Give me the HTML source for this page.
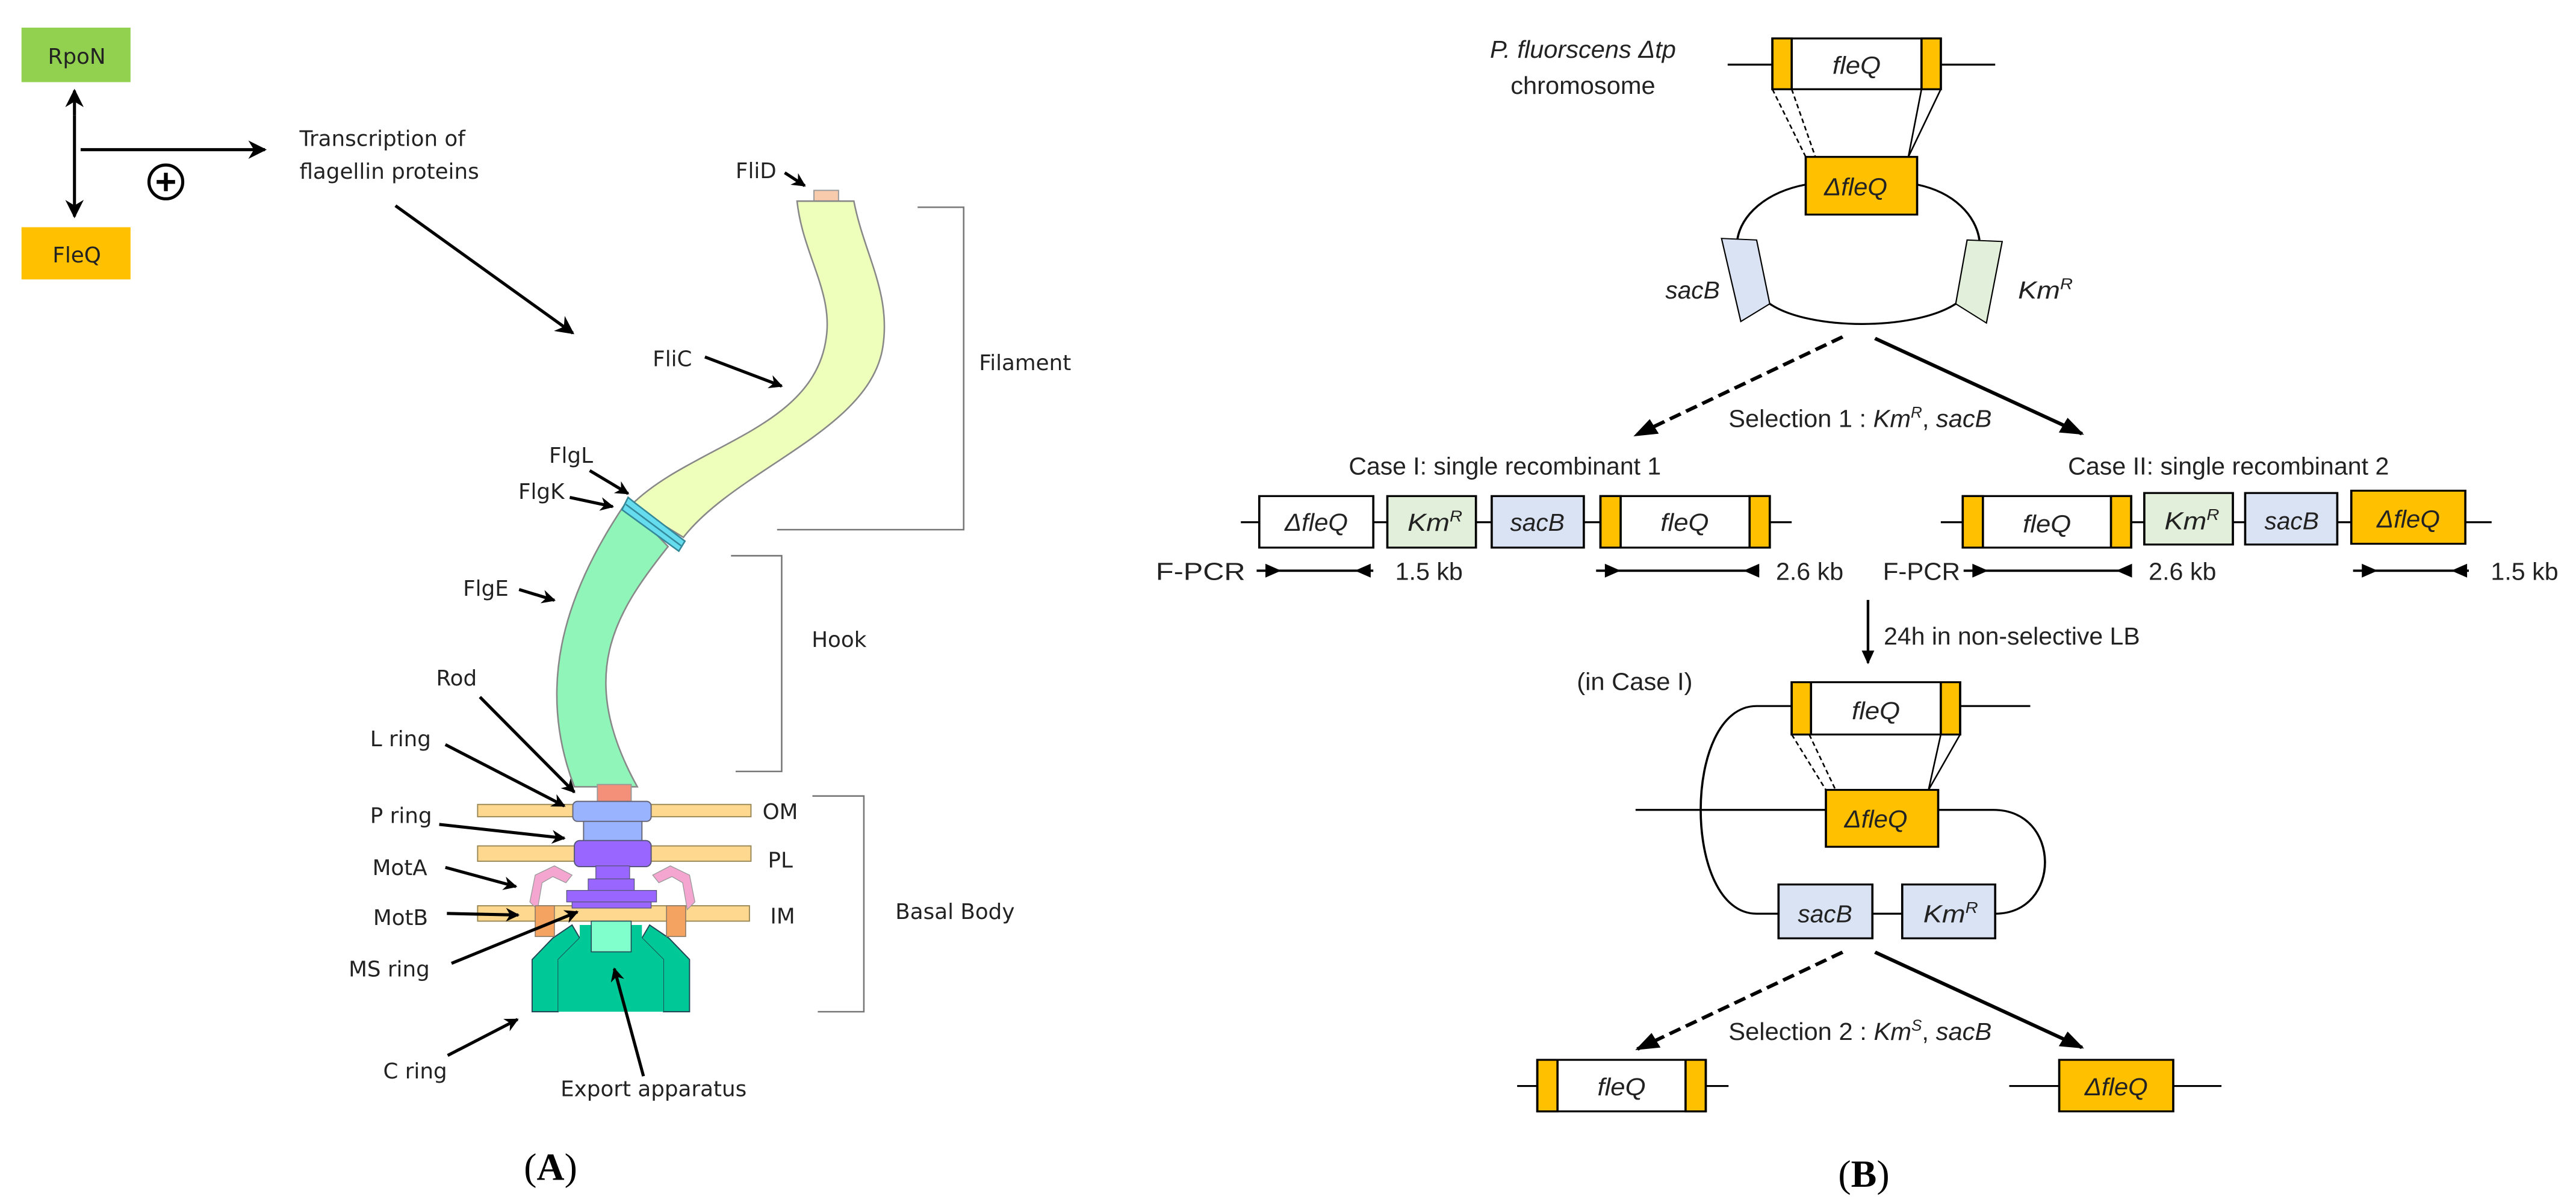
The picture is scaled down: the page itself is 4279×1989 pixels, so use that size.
<!DOCTYPE html>
<html><head><meta charset="utf-8"><style>html,body{margin:0;padding:0;background:#fff}svg{display:block}</style></head><body>
<svg width="4279" height="1989" viewBox="0 0 4279 1989" xmlns="http://www.w3.org/2000/svg">
<defs>
<marker id="ah" viewBox="0 0 10 10" refX="9" refY="5" markerWidth="6" markerHeight="6" orient="auto" markerUnits="strokeWidth"><path d="M0,0 L10,5 L0,10 L3,5 Z" fill="#000"/></marker>
<marker id="ah2" viewBox="0 0 10 10" refX="9" refY="5" markerWidth="4.5" markerHeight="4.5" orient="auto" markerUnits="strokeWidth"><path d="M0,0 L10,5 L0,10 L3,5 Z" fill="#000"/></marker>
<marker id="bh" viewBox="0 0 10 10" refX="9" refY="5" markerWidth="6" markerHeight="6" orient="auto" markerUnits="strokeWidth"><path d="M0,1 L10,5 L0,9 Z" fill="#000"/></marker>
</defs>

<!-- PANEL A -->
<g transform="scale(1.2755)" font-family="'DejaVu Sans','Liberation Sans',sans-serif" font-size="28" fill="#222">
<rect x="28" y="36" width="142" height="71" fill="#92d050"/>
<text x="100" y="83" text-anchor="middle">RpoN</text>
<rect x="28" y="296" width="142" height="68" fill="#ffc000"/>
<text x="100" y="342" text-anchor="middle">FleQ</text>
<line x1="97" y1="150" x2="97" y2="118" stroke="#000" stroke-width="4" marker-end="url(#ah)"/>
<line x1="97" y1="150" x2="97" y2="282" stroke="#000" stroke-width="4" marker-end="url(#ah)"/>
<line x1="105" y1="195" x2="345" y2="195" stroke="#000" stroke-width="4" marker-end="url(#ah)"/>
<circle cx="216" cy="237" r="22" fill="none" stroke="#000" stroke-width="4"/>
<line x1="204" y1="237" x2="228" y2="237" stroke="#000" stroke-width="5"/>
<line x1="216" y1="225" x2="216" y2="249" stroke="#000" stroke-width="5"/>
<text x="390" y="190">Transcription of</text>
<text x="390" y="233">flagellin proteins</text>
<line x1="515" y1="268" x2="746" y2="434" stroke="#000" stroke-width="4" marker-end="url(#ah)"/>

<!-- filament -->
<rect x="1060" y="248" width="32" height="14" fill="#f8cbad" stroke="#999" stroke-width="1.5"/>
<path d="M1038,262 L1112,262 C1125,330 1160,380 1150,450 C1135,560 960,610 890,700 L822,658 C900,580 1060,560 1076,440 C1085,380 1045,330 1038,262 Z" fill="#eeffbb" stroke="#888" stroke-width="2"/>
<path d="M815,655 L870,712 C800,800 750,880 830,1025 L748,1025 C700,900 730,780 815,655 Z" fill="#90f5b8" stroke="#888" stroke-width="2"/>
<path d="M818,648 L828,656 L892,705 L884,718 L810,664 Z" fill="#66ddee" stroke="#338899" stroke-width="2"/>
<line x1="815" y1="657" x2="887" y2="711" stroke="#338899" stroke-width="2"/>

<!-- basal -->
<rect x="778" y="1022" width="44" height="25" fill="#f4907a" stroke="#999" stroke-width="1.5"/>
<rect x="622" y="1048" width="356" height="16" fill="#ffd890" stroke="#998855" stroke-width="1.5"/>
<rect x="622" y="1102" width="356" height="20" fill="#ffd890" stroke="#998855" stroke-width="1.5"/>
<rect x="622" y="1180" width="354" height="20" fill="#ffd890" stroke="#998855" stroke-width="1.5"/>
<rect x="760" y="1066" width="76" height="32" fill="#99b3ff" stroke="#667" stroke-width="1.5"/>
<rect x="746" y="1044" width="102" height="26" rx="6" fill="#99b3ff" stroke="#667" stroke-width="1.5"/>
<rect x="748" y="1095" width="100" height="34" rx="7" fill="#9966ff" stroke="#557" stroke-width="1.5"/>
<rect x="776" y="1128" width="44" height="18" fill="#9966ff" stroke="#557" stroke-width="1"/>
<rect x="766" y="1145" width="60" height="16" fill="#9966ff" stroke="#557" stroke-width="1"/>
<rect x="738" y="1160" width="117" height="15" fill="#9966ff" stroke="#557" stroke-width="1"/>
<rect x="745" y="1175" width="103" height="8" fill="#9966ff" stroke="#557" stroke-width="1"/>
<path d="M690,1175 L697,1140 L722,1128 L745,1140 L737,1150 L720,1142 L706,1150 L700,1185 Z" fill="#f4a6d0" stroke="#999" stroke-width="1"/>
<path d="M905,1175 L898,1140 L873,1128 L850,1140 L858,1150 L875,1142 L889,1150 L895,1185 Z" fill="#f4a6d0" stroke="#999" stroke-width="1"/>
<path d="M693,1250 L720,1222 L745,1205 L755,1222 L727,1250 L727,1318 L693,1318 Z" fill="#00c896" stroke="#245" stroke-width="1.5"/>
<path d="M898,1250 L871,1222 L846,1205 L836,1222 L864,1250 L864,1318 L898,1318 Z" fill="#00c896" stroke="#245" stroke-width="1.5"/>
<path d="M755,1205 L836,1205 L836,1222 L864,1250 L864,1318 L727,1318 L727,1250 L755,1222 Z" fill="#00c896"/>
<rect x="770" y="1200" width="52" height="40" fill="#80ffcc" stroke="#245" stroke-width="1.2"/>
<rect x="697" y="1180" width="25" height="40" fill="#f4a460" stroke="#876" stroke-width="1.2"/>
<rect x="868" y="1180" width="25" height="40" fill="#f4a460" stroke="#876" stroke-width="1.2"/>

<!-- brackets -->
<polyline points="1195,270 1255,270 1255,690 1012,690" fill="none" stroke="#777" stroke-width="2"/>
<polyline points="952,724 1018,724 1018,1005 958,1005" fill="none" stroke="#777" stroke-width="2"/>
<polyline points="1058,1037 1125,1037 1125,1318 1065,1318" fill="none" stroke="#777" stroke-width="2"/>
<text x="1275" y="482">Filament</text>
<text x="1057" y="843">Hook</text>
<text x="1166" y="1197">Basal Body</text>
<text x="993" y="1067">OM</text>
<text x="1000" y="1130">PL</text>
<text x="1003" y="1203">IM</text>

<g stroke="#000" stroke-width="4" fill="none">
<line x1="1022" y1="225" x2="1048" y2="242" marker-end="url(#ah2)"/>
<line x1="918" y1="465" x2="1018" y2="503" marker-end="url(#ah2)"/>
<line x1="768" y1="613" x2="818" y2="643" marker-end="url(#ah2)"/>
<line x1="742" y1="648" x2="798" y2="660" marker-end="url(#ah2)"/>
<line x1="676" y1="768" x2="722" y2="782" marker-end="url(#ah2)"/>
<line x1="625" y1="908" x2="748" y2="1032" marker-end="url(#ah2)"/>
<line x1="580" y1="970" x2="735" y2="1050" marker-end="url(#ah2)"/>
<line x1="572" y1="1074" x2="735" y2="1092" marker-end="url(#ah2)"/>
<line x1="580" y1="1130" x2="672" y2="1155" marker-end="url(#ah2)"/>
<line x1="582" y1="1190" x2="675" y2="1192" marker-end="url(#ah2)"/>
<line x1="588" y1="1255" x2="752" y2="1188" marker-end="url(#ah2)"/>
<line x1="583" y1="1375" x2="674" y2="1328" marker-end="url(#ah2)"/>
<line x1="838" y1="1402" x2="800" y2="1262" marker-end="url(#ah2)"/>
</g>
<text x="958" y="232">FliD</text>
<text x="850" y="477">FliC</text>
<text x="715" y="603">FlgL</text>
<text x="675" y="650">FlgK</text>
<text x="603" y="776">FlgE</text>
<text x="568" y="893">Rod</text>
<text x="482" y="972">L ring</text>
<text x="482" y="1072">P ring</text>
<text x="485" y="1140">MotA</text>
<text x="486" y="1205">MotB</text>
<text x="454" y="1272">MS ring</text>
<text x="499" y="1405">C ring</text>
<text x="730" y="1428">Export apparatus</text>
<text x="717" y="1537" text-anchor="middle" font-family="'Liberation Serif',serif" font-size="50" fill="#000">(<tspan font-weight="bold">A</tspan>)</text>
</g>

<!-- PANEL B -->
<g transform="translate(2000,0) scale(1.457,1.278)" font-family="'Liberation Sans',sans-serif" font-size="32" fill="#222">
<g stroke="#000" stroke-width="2.5">
<line x1="597" y1="84" x2="902" y2="84"/>
<rect x="648" y="50" width="192" height="66" fill="#fff"/>
<rect x="648" y="50" width="22" height="66" fill="#ffc000"/>
<rect x="818" y="50" width="22" height="66" fill="#ffc000"/>
<line x1="648" y1="116" x2="686" y2="204" stroke-dasharray="6,4" stroke-width="1.8"/>
<line x1="670" y1="116" x2="697" y2="204" stroke-dasharray="6,4" stroke-width="1.8"/>
<line x1="818" y1="116" x2="803" y2="204" stroke-width="1.8"/>
<line x1="840" y1="116" x2="803" y2="204" stroke-width="1.8"/>
<path d="M686,240 C640,250 612,280 608,312" fill="none"/>
<path d="M813,240 C855,250 880,280 884,312" fill="none"/>
<path d="M645,395 C690,430 810,430 857,395" fill="none"/>
<rect x="686" y="204" width="127" height="75" fill="#ffc000"/>
<polygon points="590,310 630,312 645,395 612,418" fill="#dae3f3" stroke-width="1.5"/>
<polygon points="870,312 910,314 892,420 857,395" fill="#e2efda" stroke-width="1.5"/>
</g>
<text x="432" y="75" text-anchor="middle" font-style="italic" textLength="212" lengthAdjust="spacingAndGlyphs">P. fluorscens Δtp</text>
<text x="432" y="122" text-anchor="middle" textLength="165" lengthAdjust="spacingAndGlyphs">chromosome</text>
<text x="744" y="96" text-anchor="middle" font-style="italic" textLength="55" lengthAdjust="spacingAndGlyphs">fleQ</text>
<text x="743" y="254" text-anchor="middle" font-style="italic" textLength="72" lengthAdjust="spacingAndGlyphs">ΔfleQ</text>
<text x="557" y="388" text-anchor="middle" font-style="italic" textLength="62" lengthAdjust="spacingAndGlyphs">sacB</text>
<text x="928" y="388" font-style="italic">Km<tspan font-size="20" dy="-12">R</tspan></text>

<g stroke="#000" stroke-width="4.5" fill="none">
<line x1="728" y1="438" x2="492" y2="566" stroke-dasharray="14,7" marker-end="url(#bh)"/>
<line x1="765" y1="440" x2="1001" y2="564" marker-end="url(#bh)"/>
<line x1="728" y1="1238" x2="494" y2="1364" stroke-dasharray="14,7" marker-end="url(#bh)"/>
<line x1="765" y1="1238" x2="1001" y2="1362" marker-end="url(#bh)"/>
<line x1="757" y1="780" x2="757" y2="862" stroke-width="3" marker-end="url(#bh)"/>
</g>
<text x="598" y="555" textLength="300" lengthAdjust="spacingAndGlyphs">Selection 1 : <tspan font-style="italic">Km</tspan><tspan font-size="20" dy="-12" font-style="italic">R</tspan><tspan dy="12">, </tspan><tspan font-style="italic">sacB</tspan></text>
<text x="165" y="617" textLength="356" lengthAdjust="spacingAndGlyphs">Case I: single recombinant 1</text>
<text x="985" y="617" textLength="366" lengthAdjust="spacingAndGlyphs">Case II: single recombinant 2</text>

<g stroke="#000" stroke-width="2.5">
<line x1="42" y1="679" x2="670" y2="679"/>
<rect x="63" y="645" width="130" height="67" fill="#fff"/>
<rect x="209" y="645" width="101" height="67" fill="#e2efda"/>
<rect x="328" y="645" width="105" height="67" fill="#dae3f3"/>
<rect x="452" y="645" width="193" height="67" fill="#fff"/>
<rect x="452" y="645" width="23" height="67" fill="#ffc000"/>
<rect x="622" y="645" width="23" height="67" fill="#ffc000"/>
<line x1="840" y1="679" x2="1468" y2="679"/>
<rect x="865" y="645" width="192" height="67" fill="#fff"/>
<rect x="865" y="645" width="23" height="67" fill="#ffc000"/>
<rect x="1034" y="645" width="23" height="67" fill="#ffc000"/>
<rect x="1072" y="641" width="101" height="67" fill="#e2efda"/>
<rect x="1187" y="641" width="105" height="67" fill="#dae3f3"/>
<rect x="1308" y="638" width="130" height="69" fill="#ffc000"/>
</g>
<g font-style="italic">
<text x="128" y="690" text-anchor="middle" textLength="72" lengthAdjust="spacingAndGlyphs">ΔfleQ</text>
<text x="232" y="690">Km<tspan font-size="20" dy="-12">R</tspan></text>
<text x="380" y="690" text-anchor="middle" textLength="62" lengthAdjust="spacingAndGlyphs">sacB</text>
<text x="548" y="690" text-anchor="middle" textLength="55" lengthAdjust="spacingAndGlyphs">fleQ</text>
<text x="961" y="692" text-anchor="middle" textLength="55" lengthAdjust="spacingAndGlyphs">fleQ</text>
<text x="1095" y="688">Km<tspan font-size="20" dy="-12">R</tspan></text>
<text x="1240" y="688" text-anchor="middle" textLength="62" lengthAdjust="spacingAndGlyphs">sacB</text>
<text x="1373" y="686" text-anchor="middle" textLength="72" lengthAdjust="spacingAndGlyphs">ΔfleQ</text>
</g>
<g stroke="#000" stroke-width="3">
<line x1="60" y1="742" x2="193" y2="742"/>
<line x1="447" y1="742" x2="633" y2="742"/>
<line x1="866" y1="742" x2="1058" y2="742"/>
<line x1="1310" y1="742" x2="1442" y2="742"/>
</g>
<g fill="#000">
<polygon points="70,733 88,742 70,751"/><polygon points="190,733 172,742 190,751"/>
<polygon points="457,733 475,742 457,751"/><polygon points="633,733 615,742 633,751"/>
<polygon points="876,733 894,742 876,751"/><polygon points="1058,733 1040,742 1058,751"/>
<polygon points="1320,733 1338,742 1320,751"/><polygon points="1440,733 1422,742 1440,751"/>
</g>
<text x="-55" y="754" textLength="102" lengthAdjust="spacingAndGlyphs">F-PCR</text>
<text x="218" y="754" textLength="77" lengthAdjust="spacingAndGlyphs">1.5 kb</text>
<text x="652" y="754" textLength="77" lengthAdjust="spacingAndGlyphs">2.6 kb</text>
<text x="774" y="754" textLength="88" lengthAdjust="spacingAndGlyphs">F-PCR</text>
<text x="1077" y="754" textLength="77" lengthAdjust="spacingAndGlyphs">2.6 kb</text>
<text x="1467" y="754" textLength="77" lengthAdjust="spacingAndGlyphs">1.5 kb</text>
<text x="775" y="838" textLength="292" lengthAdjust="spacingAndGlyphs">24h in non-selective LB</text>
<text x="425" y="897" textLength="132" lengthAdjust="spacingAndGlyphs">(in Case I)</text>

<g stroke="#000" stroke-width="2.5" fill="none">
<path d="M670,918 L630,918 C545,918 545,1188 630,1188 L655,1188"/>
<line x1="862" y1="918" x2="942" y2="918"/>
<line x1="492" y1="1053" x2="709" y2="1053"/>
<path d="M837,1053 L900,1053 C978,1053 978,1188 902,1188"/>
<line x1="762" y1="1188" x2="796" y2="1188"/>
<line x1="670" y1="955" x2="709" y2="1027" stroke-dasharray="6,4" stroke-width="1.8"/>
<line x1="690" y1="955" x2="720" y2="1027" stroke-dasharray="6,4" stroke-width="1.8"/>
<line x1="862" y1="955" x2="826" y2="1027" stroke-width="1.8"/>
<line x1="840" y1="955" x2="826" y2="1027" stroke-width="1.8"/>
<rect x="670" y="887" width="192" height="68" fill="#fff"/>
<rect x="670" y="887" width="22" height="68" fill="#ffc000"/>
<rect x="840" y="887" width="22" height="68" fill="#ffc000"/>
<rect x="709" y="1027" width="128" height="74" fill="#ffc000"/>
<rect x="655" y="1150" width="107" height="70" fill="#dae3f3"/>
<rect x="796" y="1150" width="106" height="70" fill="#dae3f3"/>
<line x1="357" y1="1412" x2="598" y2="1412"/>
<line x1="918" y1="1412" x2="1160" y2="1412"/>
<rect x="380" y="1378" width="192" height="67" fill="#fff"/>
<rect x="380" y="1378" width="23" height="67" fill="#ffc000"/>
<rect x="549" y="1378" width="23" height="67" fill="#ffc000"/>
<rect x="975" y="1378" width="130" height="67" fill="#ffc000"/>
</g>
<g font-style="italic">
<text x="766" y="935" text-anchor="middle" textLength="55" lengthAdjust="spacingAndGlyphs">fleQ</text>
<text x="766" y="1076" text-anchor="middle" textLength="72" lengthAdjust="spacingAndGlyphs">ΔfleQ</text>
<text x="708" y="1199" text-anchor="middle" textLength="62" lengthAdjust="spacingAndGlyphs">sacB</text>
<text x="820" y="1199">Km<tspan font-size="20" dy="-12">R</tspan></text>
<text x="476" y="1424" text-anchor="middle" textLength="55" lengthAdjust="spacingAndGlyphs">fleQ</text>
<text x="1040" y="1424" text-anchor="middle" textLength="72" lengthAdjust="spacingAndGlyphs">ΔfleQ</text>
</g>
<text x="598" y="1352" textLength="300" lengthAdjust="spacingAndGlyphs">Selection 2 : <tspan font-style="italic">Km</tspan><tspan font-size="20" dy="-12" font-style="italic">S</tspan><tspan dy="12">, </tspan><tspan font-style="italic">sacB</tspan></text>
</g>
<text x="3096" y="1972" text-anchor="middle" font-family="'Liberation Serif',serif" font-size="64" fill="#000">(<tspan font-weight="bold">B</tspan>)</text>
</svg>
</body></html>
